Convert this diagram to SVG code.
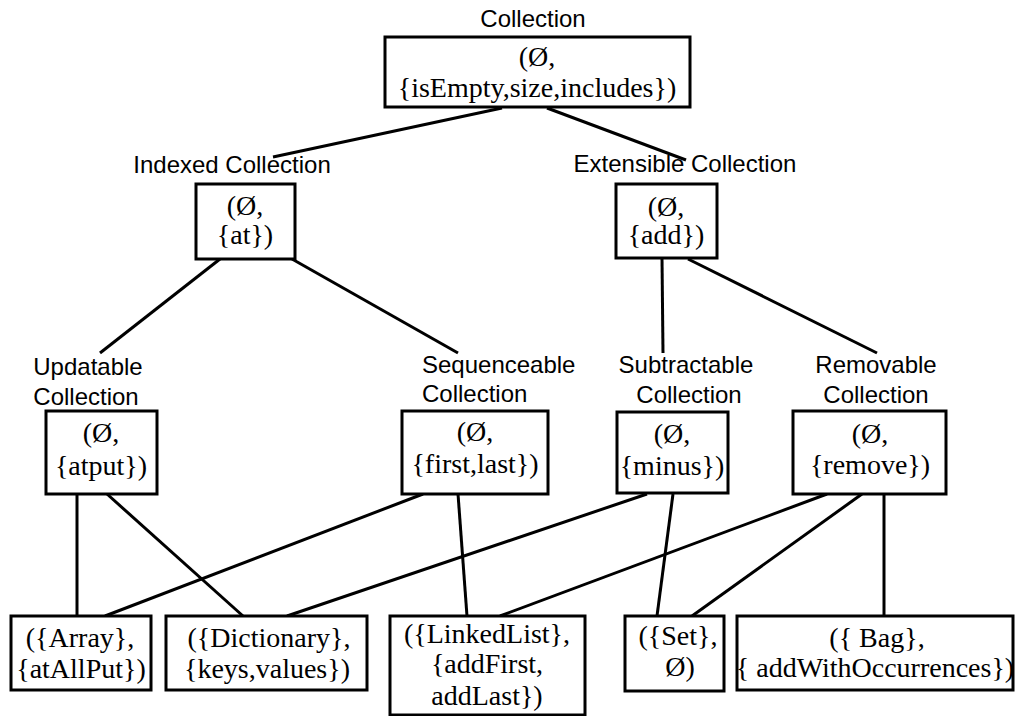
<svg xmlns="http://www.w3.org/2000/svg" width="1015" height="716" viewBox="0 0 1015 716">
<style>
.lbl{font-family:"Liberation Sans",Arial,sans-serif;font-size:24px;fill:#000;text-anchor:middle}
.st{text-anchor:start}
.bx{fill:#fff;stroke:#000;stroke-width:3}
.tx{font-family:"Liberation Serif","Times New Roman",serif;font-size:28px;fill:#000;text-anchor:middle}
.cn line{stroke:#000;stroke-width:3}
</style>
<rect width="1015" height="716" fill="#fff"/>
<g class="cn" id="connectors">
<line x1="502" y1="108" x2="273" y2="157"/>
<line x1="547" y1="108" x2="686" y2="160"/>
<line x1="220" y1="259" x2="100" y2="353"/>
<line x1="292" y1="259" x2="458" y2="353"/>
<line x1="662" y1="258" x2="663" y2="353"/>
<line x1="688" y1="259" x2="877" y2="353"/>
<line x1="77" y1="494" x2="77" y2="616"/>
<line x1="107" y1="494" x2="243" y2="616"/>
<line x1="423" y1="494" x2="105" y2="616"/>
<line x1="458" y1="494" x2="467" y2="616"/>
<line x1="647" y1="494" x2="287" y2="616"/>
<line x1="673" y1="494" x2="657" y2="616"/>
<line x1="827" y1="494" x2="500" y2="616"/>
<line x1="862" y1="494" x2="692" y2="616"/>
<line x1="884" y1="494" x2="884" y2="616"/>
</g>
<g id="collection">
<text class="lbl" x="533" y="27">Collection</text>
<rect class="bx" x="385" y="37" width="305" height="70"/>
<text class="tx" x="537" y="66">(Ø,</text>
<text class="tx" x="537" y="97">{isEmpty,size,includes})</text>
</g>
<g id="indexed">
<text class="lbl" x="232" y="173">Indexed Collection</text>
<rect class="bx" x="196" y="184" width="99" height="75"/>
<text class="tx" x="245" y="215">(Ø,</text>
<text class="tx" x="245" y="244">{at})</text>
</g>
<g id="extensible">
<text class="lbl" x="685" y="172">Extensible Collection</text>
<rect class="bx" x="616" y="184" width="101" height="74"/>
<text class="tx" x="666" y="216">(Ø,</text>
<text class="tx" x="666" y="244">{add})</text>
</g>
<g id="updatable">
<text class="lbl" x="88" y="375">Updatable</text>
<text class="lbl" x="86" y="405">Collection</text>
<rect class="bx" x="46" y="411" width="111" height="83"/>
<text class="tx" x="101" y="442">(Ø,</text>
<text class="tx" x="101" y="475">{atput})</text>
</g>
<g id="sequenceable">
<text class="lbl st" x="422" y="373">Sequenceable</text>
<text class="lbl st" x="422" y="402">Collection</text>
<rect class="bx" x="402" y="411" width="146" height="83"/>
<text class="tx" x="475" y="441">(Ø,</text>
<text class="tx" x="475" y="473">{first,last})</text>
</g>
<g id="subtractable">
<text class="lbl" x="686" y="373">Subtractable</text>
<text class="lbl" x="689" y="403">Collection</text>
<rect class="bx" x="617" y="412" width="111" height="81"/>
<text class="tx" x="672" y="443">(Ø,</text>
<text class="tx" x="672" y="475">{minus})</text>
</g>
<g id="removable">
<text class="lbl" x="876" y="373">Removable</text>
<text class="lbl" x="876" y="403">Collection</text>
<rect class="bx" x="793" y="411" width="153" height="83"/>
<text class="tx" x="870" y="443">(Ø,</text>
<text class="tx" x="870" y="474">{remove})</text>
</g>
<g id="array">
<rect class="bx" x="11" y="616" width="140" height="74"/>
<text class="tx" x="80" y="647">({Array},</text>
<text class="tx" x="81" y="678">{atAllPut})</text>
</g>
<g id="dictionary">
<rect class="bx" x="166" y="616" width="201" height="74"/>
<text class="tx" x="269" y="647">({Dictionary},</text>
<text class="tx" x="267" y="678">{keys,values})</text>
</g>
<g id="linkedlist">
<rect class="bx" x="390" y="616" width="195" height="99"/>
<text class="tx" x="487" y="643">({LinkedList},</text>
<text class="tx" x="487" y="673">{addFirst,</text>
<text class="tx" x="487" y="705">addLast})</text>
</g>
<g id="set">
<rect class="bx" x="625" y="616" width="99" height="75"/>
<text class="tx" x="678" y="645">({Set},</text>
<text class="tx" x="680" y="676">Ø)</text>
</g>
<g id="bag">
<rect class="bx" x="737" y="616" width="276" height="74"/>
<text class="tx" x="877" y="647">({ Bag},</text>
<text class="tx" x="875" y="677">{ addWithOccurrences})</text>
</g>
</svg>
